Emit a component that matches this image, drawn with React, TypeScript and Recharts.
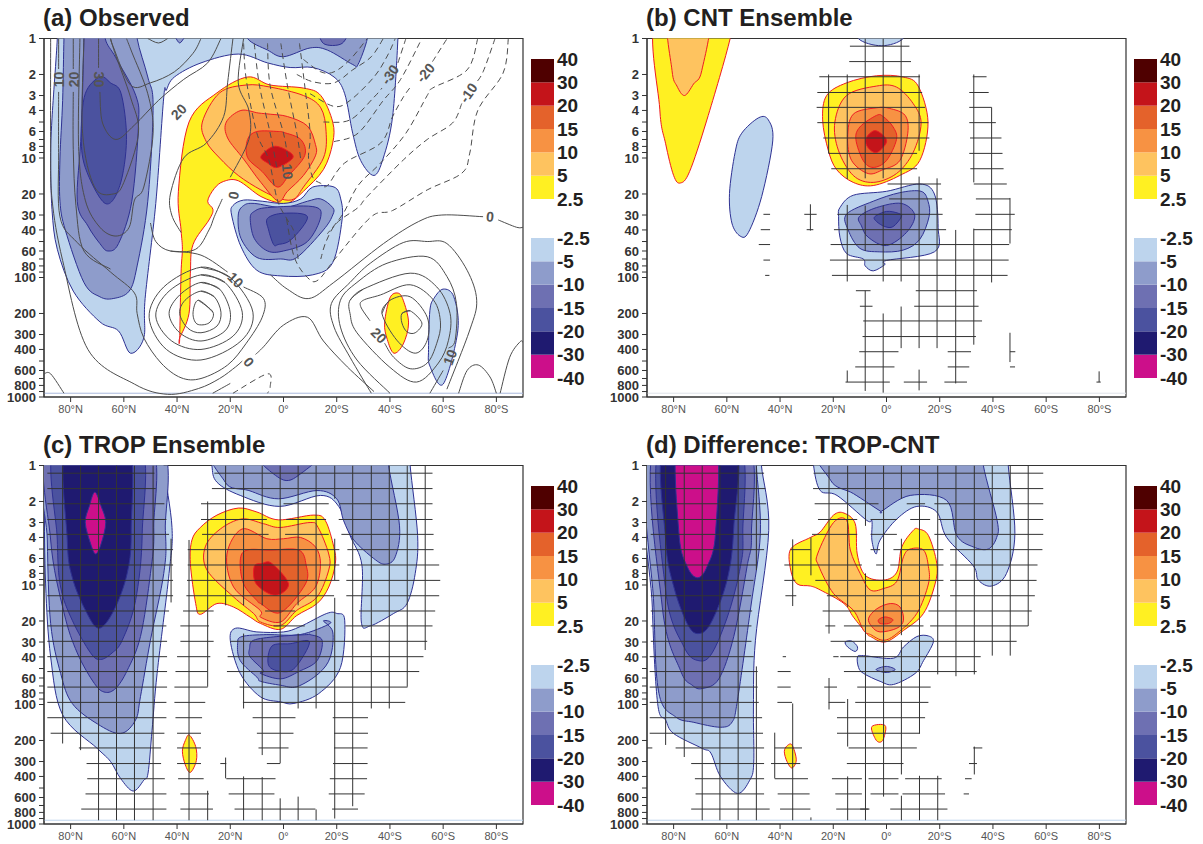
import { Bar, BarChart, ReferenceArea, ReferenceLine, Scatter, ScatterChart, XAxis, YAxis } from "recharts";

type Pt = [number, number];
type Fill = [number, Pt[]];
type Seg = [number, number];
type Tag = { lat: number; p: number; text: string; rot: number };

const LAT_TICKS = [80, 60, 40, 20, 0, -20, -40, -60, -80];
const P_TICKS = [1, 2, 3, 4, 5, 6, 7, 8, 9, 10, 20, 30, 40, 50, 60, 70, 80, 90, 100, 200, 300, 400, 500, 600, 700, 800, 900, 1000];
const P_BLANK = [5, 7, 9, 50, 70, 90, 500, 700, 900];
const WARM_LABELS = ["2.5", "5", "10", "15", "20", "30", "40"];
const COLD_LABELS = ["-40", "-30", "-20", "-15", "-10", "-5", "-2.5"];
const WARM_COLORS = ["#fff022", "#fec35f", "#f79243", "#e4622b", "#c4141a", "#4f0000"];
const COLD_COLORS = ["#cc0f8a", "#1f1a70", "#4b529f", "#6e70b2", "#8e9ccb", "#bdd4ed"];

const BAND: Record<string, string> = {
  "2.5": "#fff022", "5": "#fec35f", "10": "#f79243", "15": "#e4622b", "20": "#c4141a",
  "-2.5": "#bdd4ed", "-5": "#8e9ccb", "-10": "#6e70b2", "-15": "#4b529f", "-20": "#1f1a70", "-30": "#cc0f8a",
};

// significance grid: the pressure levels of the rows
const ROW_P = [1.16, 1.56, 2.09, 2.83, 3.77, 5.06, 6.8, 9.15, 12.3, 16.5, 22, 29.6, 39.8, 53, 71.5, 96, 129, 174, 231, 312, 418, 560, 750];

const OBS_FILLS: Fill[] = [
  [-2.5, [[85, 0.6], [85, 1], [87, 4.7], [87.5, 10], [87, 27], [85, 58], [79, 130], [69, 235], [62, 280], [57.5, 430], [52.5, 320], [52, 150], [48, 24], [45, 3.1], [44, 2.7], [41, 2.1], [31, 1.6], [17, 1.35], [6, 1.6], [-2.5, 1.75], [-11, 1.75], [-19, 2.1], [-23, 2.9], [-26, 6.2], [-29, 10.5], [-34, 14], [-37.5, 10], [-41, 4.5], [-43, 1], [-43, 0.6]]],
  [-5, [[82, 0.6], [82.5, 1], [83, 3.3], [84, 10], [84, 23], [82, 40], [75, 110], [69, 145], [64, 150], [58, 130], [55, 80], [51, 23], [49, 3.7], [51, 2.1], [55, 1], [55, 0.6]]],
  [-5, [[13.5, 0.7], [13.5, 1], [6, 1.25], [0, 1.42], [-10, 1.2], [-16.5, 1.25], [-26, 1.65], [-28, 1.65], [-31.5, 1], [-31.5, 0.7]]],
  [-5, [[41.5, 0.8], [39, 1.09], [36, 0.8]]],
  [-10, [[-14, 0.8], [-15, 1.1], [-22, 1.1], [-24, 0.8]]],
  [-10, [[75, 0.6], [75, 1], [76, 6], [77.5, 23], [73.5, 37], [69, 52], [66, 60], [62, 52], [57, 23], [54.5, 5.3], [55.5, 3], [63, 1.45], [67, 1], [67, 0.6]]],
  [-15, [[69, 2.1], [74.5, 2.9], [76, 6.2], [74.5, 12], [67, 24], [61.5, 17], [59, 7], [61, 2.9], [65, 2.35]]],
  [2.5, [[13.5, 2.1], [25, 2.85], [35.5, 5], [39.5, 19], [38.5, 40], [38, 58], [38.5, 92], [39, 320], [39, 320], [35.5, 200], [35, 92], [34, 53], [28, 33], [26.5, 27], [28.5, 23], [26, 18], [22.5, 15.7], [17, 15.5], [8.5, 21], [1, 24], [-2.5, 23.5], [-7.5, 19], [-15, 12.5], [-18.5, 7.5], [-18.5, 5], [-14, 3], [-7.5, 2.6], [5, 2.45]]],
  [5, [[14, 2.45], [24, 2.85], [30.5, 5], [29, 7.3], [24, 10], [17, 14], [8.5, 18.5], [1, 22], [-4, 22], [-7.5, 17.5], [-15, 10], [-16, 6], [-14, 3.8], [-7.5, 3], [5, 2.55]]],
  [10, [[16, 4], [21.5, 5], [21, 6.8], [15, 10.2], [8.5, 16], [2, 23], [-1.5, 19], [-7.5, 14], [-12, 9.6], [-12, 7.7], [-9, 5.4], [-1.5, 4.5], [5, 4.3], [9.5, 4.2]]],
  [15, [[10, 6], [13.5, 7], [13.5, 9.9], [8, 13], [2.3, 17.5], [-2, 14], [-8, 9.5], [-6.5, 7], [0, 6.1], [2, 6]]],
  [20, [[8.5, 9.7], [3.7, 8], [-1.5, 8.7], [-3.5, 10], [2.3, 12], [6, 11]]],
  [-2.5, [[19.5, 30], [19, 25], [15, 22.5], [8, 23], [0, 24], [-6.5, 22], [-11, 17.5], [-19, 17.5], [-21.5, 22], [-22, 33], [-18.5, 75], [-11, 95], [1, 97], [10, 87], [16, 55]]],
  [-5, [[17, 30], [15, 25], [11, 24], [0, 26], [-9, 23], [-14, 22], [-18.5, 26], [-18.5, 30], [-15, 40], [-5, 68], [1, 70], [10, 68], [16, 47]]],
  [-10, [[12.5, 32], [11, 28], [6, 26], [-11, 25.5], [-14, 31], [-9, 50], [0, 60], [6, 60], [11, 47]]],
  [-15, [[6, 32], [0, 29], [-9, 31], [-3, 48], [2, 53], [3.7, 53], [5.6, 40]]],
  [2.5, [[-40, 148], [-43, 135], [-45, 155], [-47, 240], [-45, 360], [-41.5, 430], [-39, 330], [-38, 240]]],
  [-2.5, [[-60, 125], [-64, 145], [-65.5, 280], [-60, 780], [-55, 550], [-54.5, 400], [-55, 190], [-56.5, 150]]],
];

const OBS_SOLID: Pt[][] = [
  [[87.5, 1], [87.5, 7.5], [87, 22], [83, 72], [73.5, 400], [56, 780], [43.5, 950], [32, 850], [24, 700], [18, 560], [15.5, 500]],
  [[10.5, 440], [7.5, 380], [0, 250], [-9, 215], [-15, 340], [-24, 560], [-34, 900]],
  [[26.6, 930], [20, 770]],
  [[84.5, 1], [84.5, 1.8]],
  [[84.5, 2.8], [84.5, 9], [84, 31], [77.5, 51], [65, 90], [56, 135], [55, 200], [52.5, 320], [46, 520], [38.5, 690], [31, 700], [21, 540], [14, 355], [8, 215], [7.5, 150], [15, 120]],
  [[21, 90], [31, 65], [42.5, 60]],
  [[79, 1], [79, 1.8]],
  [[79, 2.8], [79, 8.5], [78, 25], [75, 60], [65, 85]],
  [[75, 1], [75.5, 6.2], [71, 17.5], [64, 20], [60, 16], [54.5, 6.2], [57.5, 3.1], [63, 1.4], [65, 1]],
  [[76.5, 1], [77, 8], [74.5, 22.5], [69, 38], [63, 45], [58, 38], [56, 22.5], [52.5, 17.5], [49, 6.2], [51, 2.9], [57, 1.3], [59, 1]],
  [[69.5, 1], [69.5, 1.76]],
  [[69, 2.8], [68, 5.1], [63, 7], [56, 5.3], [47, 3.3], [37.5, 2.2], [28.5, 1.6], [23.5, 1]],
  [[65, 1], [64, 1.17], [57.5, 2.45], [50, 2.35], [41, 1.9], [34, 1.33], [31, 1]],
  [[51, 1], [47, 1.09], [43.5, 1]],
  [[38.5, 42], [42, 30], [42.5, 20], [37.5, 10], [29, 7.5], [22.5, 4.5], [21, 2.35], [19, 1]],
  [[15, 1], [17, 2.35], [13, 4], [13, 7], [20, 14.5]],
  [[23, 22], [26, 31], [28, 40], [33, 58], [42.5, 60], [48, 50], [50, 35]],
  [[32, 155], [26.5, 195], [28, 240], [32.5, 245], [34, 198], [32, 155], [26.5, 195]],
  [[31, 130], [26, 145], [23.5, 195], [25, 255], [31, 290], [36, 265], [39, 200], [37, 155], [31, 130], [26, 145]],
  [[31, 110], [24, 125], [20, 195], [22, 280], [31, 340], [39, 290], [43, 200], [39, 140], [31, 110], [24, 125]],
  [[31, 95], [22, 110], [15.5, 195], [19, 310], [31, 400], [42, 340], [48, 210], [43, 130], [31, 95], [22, 110]],
  [[31, 82], [20, 100], [11.5, 195], [16, 340], [31, 490], [44, 400], [50.5, 215], [45, 120], [31, 82], [20, 100]],
  [[-44.5, 200], [-47.6, 190], [-52, 240], [-49.5, 290], [-46.4, 285], [-44.5, 240], [-44.5, 200], [-47.6, 190]],
  [[-37, 200], [-40, 155], [-47.6, 145], [-54, 215], [-54, 335], [-49.5, 430], [-42.6, 335], [-37, 200], [-40, 155]],
  [[-32.5, 230], [-29, 175], [-30, 155], [-36.4, 140], [-47.6, 115], [-56.4, 155], [-59, 240], [-57.6, 355], [-54, 520], [-47.6, 580], [-41.4, 465], [-38, 355]],
  [[-25, 155], [-30, 125], [-47.6, 92], [-57.6, 120], [-62.6, 200], [-62, 335], [-58.2, 520], [-50, 750], [-40, 565], [-27.6, 290], [-25, 200], [-25, 155], [-30, 125]],
  [[-40, 930], [-27.6, 490], [-21.4, 260], [-21.4, 155], [-27.6, 110], [-38.9, 76], [-54, 67], [-61.4, 98], [-65, 165], [-64.5, 335], [-62, 390]],
  [[-60, 600], [-55, 930]],
  [[-33, 930], [-25, 465], [-19, 260], [-18, 165], [-25, 110], [-32.6, 76], [-45, 51], [-54, 50], [-61.4, 52], [-69, 87], [-72.6, 155], [-70, 275], [-61.4, 860]],
  [[-65.8, 930], [-69, 600], [-73.2, 540], [-77.6, 680], [-80, 930]],
  [[-81.4, 930], [-85, 465], [-88.9, 345], [-90, 350]],
  [[4.9, 95], [-1.4, 125], [-9.5, 150], [-18.9, 110], [-37.6, 52], [-50.8, 34], [-59.5, 30], [-75, 31]],
  [[-80.7, 33], [-87.6, 38], [-90, 38]],
  [[90, 640], [87.5, 640], [82.5, 930]],
];

const OBS_DASHED: Pt[][] = [
  [[15, 1.1], [14, 2.2], [10, 6.2], [5.5, 10.4], [2.3, 22.5], [-1.5, 33], [-4, 42], [-5.5, 70]],
  [[11, 1.1], [9, 2.5], [5, 6.2], [2.5, 12]],
  [[6, 1.1], [5, 2.5], [0, 6.2], [-1.5, 9.8]],
  [[1, 1.1], [-1.5, 2.5], [-5, 6.2], [-6.5, 10.4]],
  [[-6, 1.1], [-8, 2.5], [-10, 6.2], [-9.4, 10], [-11, 14.5], [-14, 16.3], [-16.5, 17], [-23, 11], [-36.5, 7.5], [-41, 4.5], [-45, 3.1], [-48, 2.5]],
  [[-56, 1.56], [-61.5, 1]],
  [[-7.5, 1.5], [-14, 1.9], [-19, 1.9], [-25, 1.5], [-31.5, 1]],
  [[-5, 2], [-11, 2.3], [-19, 2.35], [-26, 1.83], [-33, 1.42], [-37.5, 1]],
  [[-10, 2.9], [-19, 3.7], [-25, 3.3], [-34, 2.1], [-39, 1.4], [-42, 1]],
  [[-15, 5], [-25, 4.8], [-34, 3.1], [-37, 2.6]],
  [[-43, 1.6], [-46, 1]],
  [[-19, 7.3], [-28, 6.2], [-37.5, 3.3], [-44, 2.2], [-52, 1]],
  [[-73, 1], [-69, 1.83], [-56, 2.6], [-54, 3], [-46, 6.2], [-36.5, 11], [-28, 17], [-22.5, 29], [-16.5, 43]],
  [[-79.5, 1], [-75, 1.9], [-72, 2.4]],
  [[-67, 3.5], [-63.5, 5.1], [-54, 7], [-45, 10.4], [-31.5, 21], [-28, 26], [-20, 35], [-16, 50], [-14, 70]],
  [[-84.5, 1], [-82.5, 1.95], [-73, 4], [-70, 9.1], [-67, 13.4], [-54, 18.5], [-41, 27.5], [-33, 31], [-20, 67], [-13, 105], [-9, 100], [-4, 67], [-1, 31]],
  [[19, 930], [6, 640], [5, 820], [6, 930]],
];

const OBS_TAGS: Tag[] = [
  { lat: 84.4, p: 2.2, text: "10", rot: -90 },
  { lat: 78.8, p: 2.2, text: "20", rot: -90 },
  { lat: 69.5, p: 2.2, text: "30", rot: 90 },
  { lat: 39.4, p: 4.1, text: "20", rot: -45 },
  { lat: 18.8, p: 20.5, text: "0", rot: -80 },
  { lat: -1.5, p: 13, text: "10", rot: 85 },
  { lat: 18, p: 105, text: "10", rot: 45 },
  { lat: 13, p: 510, text: "0", rot: 50 },
  { lat: -35.8, p: 305, text: "20", rot: 45 },
  { lat: -62.6, p: 465, text: "10", rot: -70 },
  { lat: -77.6, p: 31, text: "0", rot: 5 },
  { lat: -40, p: 2, text: "-30", rot: -55 },
  { lat: -53.3, p: 1.94, text: "-20", rot: -50 },
  { lat: -69.5, p: 2.85, text: "-10", rot: -55 },
];

const CNT_FILLS: Fill[] = [
  [2.5, [[86, 0.6], [85.2, 3.9], [83, 7.6], [80, 14], [77.5, 16.2], [74, 13], [67.5, 4.8], [58.75, 1], [58, 0.6]]],
  [5, [[81.7, 0.6], [80.6, 1.85], [78.75, 2.5], [75.9, 3], [72.5, 2.4], [69.4, 1.85], [66.8, 0.6]]],
  [-2.5, [[48, 4.6], [44.4, 4.8], [42.75, 7.2], [46.9, 21], [51.9, 42], [55, 45], [58.1, 35], [59, 19.8], [56.9, 9], [54.4, 6.2]]],
  [-2.5, [[11, 0.7], [10.6, 1], [1.9, 1.15], [-6.25, 1], [-7, 0.7]]],
  [2.5, [[22.5, 3], [15, 2.35], [3.75, 2.05], [-6.25, 2.1], [-11.9, 2.5], [-15.6, 5], [-12.5, 10.5], [-5, 14], [5, 17], [12.5, 16], [18.75, 12.5], [21.9, 8.6], [24, 4.8]]],
  [5, [[3.75, 2.5], [15, 3], [19.4, 5], [18.1, 8.6], [12.5, 14], [5, 16], [-3.75, 13.5], [-10, 9], [-13, 5.1], [-10, 3.5], [-3.75, 2.55]]],
  [10, [[3.75, 3.8], [12.5, 4.3], [14.6, 6.7], [13.1, 10.5], [6.9, 13.5], [1.25, 12.5], [-5, 10.5], [-8, 6.2], [-7, 4.4], [-1.25, 3.85]]],
  [15, [[3.75, 4.4], [10, 5.5], [11.5, 7], [8.75, 10.5], [5, 12], [0, 10.5], [-3.75, 7], [-2.5, 5.5], [1.25, 4.5]]],
  [20, [[4.4, 5.9], [0.6, 6.7], [0.25, 7.6], [3.75, 9], [6.9, 8.2], [7.75, 6.9]]],
  [-2.5, [[17.5, 26], [12.5, 20.5], [0, 19], [-12.5, 16.5], [-18, 20], [-19.4, 38], [-18, 61], [0, 72], [0.6, 78], [5, 88], [8, 80], [8.75, 70], [15, 63], [17.5, 46], [18, 31]]],
  [-5, [[15, 29.5], [5, 23], [-5, 19.5], [-13, 19], [-15.6, 23], [-16, 31], [-12.5, 48], [-6.25, 59], [2.5, 61], [10, 57], [14.4, 40]]],
  [-10, [[10.25, 31], [3.75, 26], [-5.6, 24], [-10.6, 30], [-7.5, 42], [0, 54], [6.9, 46], [9.4, 37]]],
  [-15, [[4.4, 31], [0, 28], [-4.4, 29], [-5.6, 31], [-2.5, 37.5], [0.6, 37.5], [3.75, 34]]],
];

const CNT_ROWS: Seg[][] = [
  [[13.75, -8.6]], [[14, -9.2]],
  [[25.25, -12.6], [-32.4, -37.6]], [[26, -13.4], [-31.1, -38.4]], [[26.25, -14.5], [-31.1, -39.5]], [[26, -15.75], [-31.1, -41.1]],
  [[23.75, -16.1], [-31.4, -43.2]], [[21.75, -11.5], [-31.1, -43.6]], [[20.75, -11.5], [-31.5, -44]],
  [[-0.4, -20.5], [-32.8, -45.2]], [[-1, -20.9], [-33.6, -46.4]],
  [[46.25, 43.75], [30.9, 26.25], [18.5, -21.1], [-33.4, -48.2]],
  [[47.25, 43.75], [30, 27.5], [19.75, -22.4], [-32.8, -47.1]],
  [[48, 43.75], [21, -46.1]], [[46.25, 43.75], [21.25, -45.9]], [[45.6, 44], [20.5, -45.5]],
  [[11.5, 6], [-11, -34]], [[10, 5.25], [-10.4, -34.6]], [[8.75, -35.9]], [[9, -33.6]],
  [[10.25, -4.5], [-23, -31.75], [-46.4, -48.4]],
  [[11.75, -3], [-23, -31.1], [-46.4, -48.3]],
  [[15.4, -1.25], [-6.5, -15.25], [-21.75, -30.25], [-78.9, -80.5]],
];

const CNT_COLS: [number, Seg[]][] = [
  [28.6, [[24.4, 40.5]]],
  [21.75, [[2, 9.15]]],
  [14.75, [[2, 15], [24.7, 108], [600, 750]]],
  [8, [[1, 14.8], [25, 60], [129, 890]]],
  [1.25, [[1, 14.8], [25, 108], [200, 920]]],
  [-5.5, [[1, 108], [175, 390]]],
  [-12.25, [[2, 8.7], [14.3, 390], [590, 880]]],
  [-19, [[14.8, 390]]],
  [-26, [[40, 770]]],
  [-32.8, [[2, 16], [39, 365]]],
  [-39.5, [[3.77, 110]]],
  [-46.4, [[21.6, 52], [290, 510]]],
  [-79.9, [[610, 750]]],
];

const TROP_FILLS: Fill[] = [
  [-2.5, [[89.75, 0.6], [45, 0.6], [45, 1], [41.9, 3.3], [43, 8], [47.5, 55], [49.4, 165], [50.9, 375], [52.5, 430], [56.5, 530], [61.25, 415], [65, 300], [70, 233], [83, 122], [87.5, 40], [89.4, 9.8], [89.9, 2]]],
  [-5, [[88.9, 0.6], [47.5, 0.6], [44.4, 3.5], [45, 8], [50, 29], [53.75, 86], [55.6, 135], [61.25, 175], [70, 145], [79.4, 98], [83.75, 55], [87.5, 21], [88.75, 4.2]]],
  [-10, [[87.5, 0.6], [51.25, 0.6], [48.75, 3.3], [50, 8], [53.75, 27], [58.75, 52], [63, 73], [67, 79], [71, 67], [77.5, 37], [82.5, 17], [87.5, 4.2]]],
  [-15, [[85.25, 0.6], [54.75, 0.6], [53.1, 3.7], [55.6, 13.5], [60.6, 29], [64.4, 37], [68.75, 42], [72.5, 37], [79.4, 19.7], [83.75, 10.4], [85, 4.2]]],
  [-20, [[81.25, 0.6], [59, 0.6], [57.25, 3.5], [58.75, 8], [63.75, 16.3], [69.4, 23], [74.4, 16.3], [79.4, 8.6], [81.25, 4.2]]],
  [-30, [[70.9, 1.67], [73, 2.2], [74.5, 3], [72.5, 4.5], [70.6, 5.5], [68.5, 4.5], [66.8, 3], [68.5, 2.2]]],
  [-2.5, [[27, 0.6], [26.9, 1], [25, 1.38], [16.25, 1.78], [1.5, 2.2], [-13.9, 1.78], [-20.75, 2.2], [-25, 3.85], [-29.5, 6.9], [-29.25, 20.4], [-32.6, 22], [-41.4, 17.3], [-46.4, 14.3], [-49.5, 8], [-50.4, 3.85], [-47.6, 1], [-47.6, 0.6]]],
  [-5, [[23.75, 0.6], [21.9, 1.38], [13, 1.62], [1.9, 1.9], [-12.6, 1.62], [-20, 1.9], [-22.6, 2.9], [-26.4, 4.2], [-33.9, 6], [-38.25, 6.7], [-42, 5.8], [-43.6, 3.2], [-39.5, 1], [-39.5, 0.6]]],
  [-10, [[11.5, 0.7], [1.1, 1.29], [-6.5, 1.17], [-15, 0.7]]],
  [2.5, [[34.4, 4.2], [31.25, 3.3], [25, 2.6], [16.9, 2.27], [10, 2.45], [1.9, 2.85], [-11.4, 2.6], [-15.75, 2.9], [-18.9, 4.8], [-19.5, 6.6], [-17, 10.4], [-12.6, 14.3], [-5, 18], [1.1, 23.5], [8.6, 21], [12.5, 18.6], [18.75, 15.3], [25, 14.3], [31.25, 17.6], [33, 14.3], [35, 6.6]]],
  [5, [[29.4, 4.8], [23.75, 3.4], [15.6, 2.8], [7.5, 3.07], [1.25, 3.3], [-10, 3], [-13, 3.3], [-17, 5.5], [-17, 7.5], [-12.6, 12.6], [-5, 16.3], [1.1, 21.8], [8.6, 20.4], [11.25, 17.3], [18.75, 12.6], [28.75, 7.5]]],
  [10, [[21.25, 5.5], [15.6, 3.4], [6.25, 4.1], [0, 4.1], [-6.4, 4], [-12, 4.8], [-13.9, 6.6], [-12, 10.4], [-5, 14.3], [1.1, 20.4], [8.6, 18.6], [8.75, 16.3], [18.75, 10.4]]],
  [15, [[16.25, 6.2], [13.75, 5.1], [5, 5.1], [-5.75, 5.1], [-8.5, 6.8], [-8.25, 9.8], [1.1, 17], [8.6, 14.3], [10, 13.5], [15, 9.8]]],
  [20, [[11, 7], [8.1, 6.6], [4.4, 6.6], [-1.9, 9.8], [3.1, 12.2], [10.25, 9.8]]],
  [-2.5, [[20, 29], [18, 23], [10, 24.7], [0, 24.7], [-6.25, 22.3], [-16.25, 17.3], [-20, 17.3], [-23, 19.7], [-21.4, 49], [-13.25, 81], [-3.9, 98], [1.1, 95], [8.75, 86], [16.25, 55]]],
  [-5, [[17.25, 31], [15.6, 27], [6.25, 26], [-6.25, 26], [-17.5, 21], [-15, 20], [-18.5, 24.7], [-17.6, 40], [-13.25, 55], [-5, 71], [1.1, 69], [8.6, 64], [10, 59], [16.25, 43]]],
  [-10, [[12.75, 34], [11.25, 29], [2.5, 27], [-8.75, 26], [-10, 26], [-14.5, 29], [-12.6, 43], [-5.75, 53], [1.1, 61], [8.6, 55], [7.5, 52], [12.5, 40]]],
  [-15, [[5.6, 47], [4.4, 32.5], [-2.5, 31], [-9.75, 30], [-4.4, 49], [0.6, 53]]],
  [2.5, [[35.4, 180], [33, 225], [32.75, 295], [35, 370], [36.9, 320], [38, 246], [36.9, 200]]],
];

const TROP_ROWS: Seg[][] = [
  [[88.75, 48.5], [26, -56]],
  [[88.75, 48], [26.9, -56]],
  [[88.75, 44.75], [31, 7.5], [0, -17], [-21, -56]],
  [[88.75, 44], [31, 6.25], [-1, -16], [-20.75, -56]],
  [[88.75, 43], [30.6, 5.6], [-0.6, -17], [-21.75, -56.4]],
  [[88.75, 41.5], [36, -21], [-24, -56.4]],
  [[88.75, 41.5], [36, -21], [-24, -58.5]],
  [[88.75, 41.5], [36.25, -21], [-23.6, -58.9]],
  [[88.75, 41.5], [36.5, -19], [-23.6, -58.5]],
  [[88.75, 43], [37.75, 26.25], [6.9, -4.4], [-28.4, -57]],
  [[88.75, 44], [38.75, 28], [3.75, -8], [-23.25, -56]],
  [[88.75, 43.75], [38.75, 26.25], [20, -54]],
  [[88.75, 43.75], [40, 27.5], [21, -52.6]],
  [[88.75, 43.75], [40.6, 28.5], [21.25, -51]],
  [[88.75, 43.75], [41, 28.5], [16.5, -46.6]],
  [[88.75, 44], [41, 29.4], [15.25, -45.75]],
  [[88.75, 44], [40.6, 30.6], [11.6, -4.5], [-18.5, -31.75]],
  [[87.5, 44.75], [40, 31], [10, -3.75], [-19, -31.75]],
  [[76.9, 46], [40, 31], [9.4, -1.9], [-19, -31.6]],
  [[74, 46], [40, 31], [23.75, 21.5], [6.25, 1.25], [-18.6, -31.6]],
  [[73.75, 44.6], [39.6, 30], [21.5, 3], [-17.4, -31.4]],
  [[74.4, 44], [38.75, 28], [20.6, 3.4], [-17, -30.5]],
  [[76, 44], [38.75, 26.5], [18.4, -12], [-18.25, -28]],
];

const TROP_COLS: [number, Seg[]][] = [
  [83, [[1, 212]]],
  [76.25, [[1, 241]]],
  [69.5, [[1, 930]]],
  [62.75, [[1, 930]]],
  [56, [[1, 930]]],
  [49, [[1, 930]]],
  [42.25, [[4.1, 14]]],
  [35.5, [[4.2, 930]]],
  [28.5, [[2, 71], [527, 930]]],
  [21.75, [[1, 14.8], [278, 415]]],
  [15, [[1, 14.8], [25.5, 108], [400, 930]]],
  [8, [[1, 14.8], [28, 265], [405, 930]]],
  [1.25, [[1, 310], [610, 930]]],
  [-5.5, [[1, 14.8], [25.5, 108], [590, 930]]],
  [-12.25, [[1, 108], [755, 930]]],
  [-19.25, [[1, 1.9], [4.1, 9.1], [12.8, 900]]],
  [-26, [[1, 710]]],
  [-33, [[1, 108]]],
  [-39.75, [[1, 108]]],
  [-46.5, [[1, 71]]],
  [-53.25, [[1, 35]]],
];

const DIFF_FILLS: Fill[] = [
  [-2.5, [[89.25, 0.6], [88, 15.3], [86, 98], [83, 135], [80, 175], [69.25, 233], [66, 255], [62.4, 400], [56, 555], [51.4, 430], [49.9, 310], [50, 105], [49.25, 29], [44.25, 3.5], [47, 1], [47, 0.6]]],
  [-5, [[88.4, 0.6], [87.4, 15.3], [85.5, 81], [79.25, 127], [72.4, 141], [62.4, 155], [58, 140], [56, 92], [51, 15.3], [47.4, 3.7], [48.9, 1], [48.9, 0.6]]],
  [-10, [[86.75, 0.6], [84.25, 15.3], [77.4, 52], [73, 69], [69.25, 73.5], [63, 61], [57.4, 27], [52.4, 7], [50.75, 3.7], [53, 0.6]]],
  [-15, [[84.9, 0.6], [83, 11], [76.1, 33], [70.5, 43], [65.5, 37], [59.25, 17], [54.9, 7], [54, 3.7], [56, 0.6]]],
  [-20, [[83, 0.6], [83, 4.2], [79.9, 10.4], [74.9, 21], [70.9, 25.5], [66.1, 21], [59.9, 9.1], [57.4, 3.3], [57.4, 0.6]]],
  [-30, [[78.4, 0.6], [78, 3.7], [74.9, 7], [71, 8.7], [67.4, 7], [64.25, 3.7], [64.25, 0.6]]],
  [-2.5, [[27.5, 0.6], [27.4, 1], [24.9, 1.62], [18.6, 1.78], [7.4, 2.88], [5.5, 2.9], [5.5, 4.2], [3.9, 5.5], [2.4, 4.2], [-3.9, 2.8], [-11.4, 2.2], [-18.9, 2.45], [-22.6, 4], [-32.6, 6.9], [-34.5, 9.1], [-39.5, 10.2], [-45.1, 8], [-48.25, 3.7], [-45.75, 1], [-45.75, 0.6]]],
  [-5, [[23.6, 0.6], [21, 1.33], [12.4, 1.72], [2.4, 2.4], [1.75, 2.4], [-8.9, 1.78], [-22.6, 1.96], [-26.4, 3.85], [-32.6, 4.8], [-38.25, 5], [-41.4, 4], [-41.6, 2.9], [-36.4, 1], [-36.4, 0.6]]],
  [2.5, [[36, 5], [28.6, 4], [24.9, 3.6], [19.9, 2.6], [16, 2.5], [11.75, 3.07], [11, 5.5], [8, 8.3], [1.1, 9.1], [-3.9, 7.8], [-5.75, 4.8], [-10, 3.5], [-12, 3.4], [-15.75, 3.85], [-18.9, 6.6], [-18.25, 9.8], [-13.9, 17.3], [-6.4, 24], [0.5, 30], [6, 27], [7.4, 25.5], [12.4, 18.6], [16, 14.3], [24.9, 11], [28.6, 10.2], [33.6, 9.8], [36, 7.5]]],
  [5, [[25.9, 5.5], [19.9, 3], [14.9, 2.9], [13.6, 5.1], [9.9, 8], [6.1, 11], [1.1, 10.7], [-3.9, 9.3], [-6.4, 5.8], [-8.9, 5], [-13.9, 5.1], [-15.75, 7], [-15.75, 9.8], [-11.4, 17.3], [-3.9, 25.5], [1.1, 29], [6, 26], [8.6, 24], [12.4, 16.3], [19.9, 11.8], [25.5, 6.9]]],
  [10, [[6.75, 19], [3.6, 15.8], [-1.4, 14.3], [-5.1, 15.3], [-6.4, 19.7], [-3.9, 23], [2.4, 24.7], [5.5, 22.3]]],
  [15, [[3, 19.5], [0.5, 18.5], [-2.4, 19.5], [-0.75, 21], [2.4, 21]]],
  [-2.5, [[10.9, 40], [8.6, 39], [-2.6, 41], [-6.4, 33], [-11.4, 27], [-15.75, 26.7], [-17.6, 30], [-13.9, 43], [-10.75, 55], [-2.6, 68], [2.4, 64], [8.6, 55], [10.5, 49]]],
  [-5, [[3.9, 51], [0.1, 48], [-3.25, 51], [0.1, 54]]],
  [-2.5, [[15.5, 30], [13, 29.5], [10.9, 33], [11.75, 36], [14.6, 33]]],
  [2.5, [[37.4, 222], [35.5, 218], [33.9, 290], [35.5, 340], [37.4, 300], [38.4, 248]]],
  [2.5, [[5.5, 153], [0.5, 150], [1.1, 193], [2.6, 207], [4.25, 193]]],
];

const DIFF_ROWS: Seg[][] = [
  [[88.9, 46], [27.4, -58.9]],
  [[88.6, 45.5], [27.6, -58.9]],
  [[88.6, 45.25], [27, 3], [-7.6, -14.5], [-18, -58.9]],
  [[88.6, 44.25], [25.75, 11], [6, -4], [-8.9, -16.4], [-19.5, -58.9]],
  [[88.6, 44.5], [28, 11], [6, -3.9], [-18, -58.9]],
  [[88.6, 46], [36, 28.5], [6, 2.4], [-2.6, -21.4], [-23.9, -58.6]],
  [[88.6, 48.6], [38.4, 9.25], [3.9, 1.1], [-1.4, -21.4], [-23.9, -56.75]],
  [[88.6, 50], [38.4, 34.25], [26.75, -21.4], [-23.9, -56.4]],
  [[88.6, 50.9], [38, 33.9], [22.4, -20.1], [-23.9, -55.75]],
  [[88.6, 50.5], [24, -12.6], [-15.75, -54.6]],
  [[88.6, 50.75], [23, 19.25], [16, -13.9], [-16.4, -53.25]],
  [[88.6, 50.75], [21, -48.9]],
  [[89, 49.9], [39, 37.75], [20, 18], [17.4, -35.4]],
  [[89, 48.4], [40.9, 36], [16, -33.9]],
  [[89, 48.4], [41, 36], [23.4, 18.6], [11, -16.6]],
  [[89, 48], [41, 35.5], [21.75, 15.5], [11.75, -15.75]],
  [[89, 46.75], [18.6, -14.5]],
  [[89, 46.4], [18.6, -12.6]],
  [[90, 88], [79.25, 46], [42, 31.75], [14.25, -11.4], [-32.6, -36]],
  [[73.4, 46], [43.4, 32.4], [14.9, -6.4], [-31, -34]],
  [[72, 46], [42, 29.5], [20.5, 9.25], [6.75, -4.5], [-7, -20.75], [-29.5, -32]],
  [[71.75, 46], [40.9, 28.9], [19.25, 9.25], [6, -4.5], [-6, -22], [-29, -31]],
  [[73.4, 43.9], [40, 28.6], [18.9, 6.75], [9.9, 6.4], [-1.4, -22.9]],
];

const DIFF_COLS: [number, Seg[]][] = [
  [83, [[1, 218]]],
  [76, [[1, 275]]],
  [69.25, [[1, 930]]],
  [62.6, [[1, 930]]],
  [55.75, [[1, 930]]],
  [48.9, [[1, 7.5], [48, 930]]],
  [42, [[172, 415]]],
  [35.25, [[4.15, 15], [98, 930]]],
  [28.4, [[4, 8.3], [880, 930]]],
  [21.6, [[1, 25.5], [60, 110]]],
  [14.6, [[1, 15.3], [90, 225], [400, 930]]],
  [7.9, [[1, 3.2], [8, 930]]],
  [1.1, [[1, 590]]],
  [-5.6, [[1, 1.9], [4.1, 26.3], [29, 385], [580, 930]]],
  [-12.4, [[1, 175], [395, 930]]],
  [-19.25, [[1, 56], [395, 930]]],
  [-26.1, [[1, 58]]],
  [-33, [[1, 56], [225, 385]]],
  [-39.75, [[1, 39]]],
  [-46.5, [[1, 39]]],
  [-53.25, [[1, 22]]],
];

const INK = "#231f20";
const FONT = '"Liberation Sans", Arial, sans-serif';
const toData = (pts: Pt[]) => pts.map(([lat, p]) => ({ lat, p }));
const noDot = () => <g />;

// catmull-rom through the read contour points, so shapes keep their extent
function smoothCurve(closed: boolean) {
  return (ctx: any) => {
    let pts: Pt[] = [];
    return {
      areaStart() {},
      areaEnd() {},
      lineStart() {
        pts = [];
      },
      point(x: number, y: number) {
        pts.push([+x, +y]);
      },
      lineEnd() {
        const n = pts.length;
        if (!n) return;
        const at = (i: number) => (closed ? pts[(i + n) % n] : pts[Math.max(0, Math.min(n - 1, i))]);
        ctx.moveTo(pts[0][0], pts[0][1]);
        const last = closed ? n : n - 1;
        for (let i = 0; i < last; i++) {
          const [p0, p1, p2, p3] = [at(i - 1), at(i), at(i + 1), at(i + 2)];
          ctx.bezierCurveTo(
            p1[0] + (p2[0] - p0[0]) / 6,
            p1[1] + (p2[1] - p0[1]) / 6,
            p2[0] - (p3[0] - p1[0]) / 6,
            p2[1] - (p3[1] - p1[1]) / 6,
            p2[0],
            p2[1],
          );
        }
        if (closed) ctx.closePath();
      },
    };
  };
}
const closedCurve = smoothCurve(true);
const openCurve = smoothCurve(false);

function hatchEnds(rows: Seg[][], cols: [number, Seg[]][]) {
  const out: { lat: number; p: number }[] = [];
  rows.forEach((segs, i) =>
    segs.forEach(([a, b]) => out.push({ lat: a, p: ROW_P[i] }, { lat: b, p: ROW_P[i] })),
  );
  cols.forEach(([lat, segs]) => segs.forEach(([a, b]) => out.push({ lat, p: a }, { lat, p: b })));
  return out;
}

function hatchPath(props: any) {
  const pts = props.points as { x: number; y: number }[];
  let d = "";
  for (let i = 0; i + 1 < pts.length; i += 2) {
    d += `M${pts[i].x},${pts[i].y}L${pts[i + 1].x},${pts[i + 1].y}`;
  }
  return <path d={d} fill="none" stroke="#333" strokeWidth={1} />;
}

function tagShape(props: any) {
  const t = props.payload as Tag;
  return (
    <text
      x={props.cx}
      y={props.cy}
      textAnchor="middle"
      dominantBaseline="central"
      transform={`rotate(${t.rot} ${props.cx} ${props.cy})`}
      fontFamily={FONT}
      fontWeight="bold"
      fontSize={14}
      fill="#555"
    >
      {t.text}
    </text>
  );
}

function latLabel(v: number) {
  if (v === 0) return "0°";
  return v > 0 ? `${v}°N` : `${-v}°S`;
}

function Panel({
  left, top, title, fills, solid = [], dashed = [], tags = [], rows, cols, base,
}: {
  left: number; top: number; title: string; fills: Fill[]; solid?: Pt[][]; dashed?: Pt[][]; tags?: Tag[];
  rows?: Seg[][]; cols?: [number, Seg[]][]; base: string;
}) {
  return (
    <div style={{ position: "absolute", left, top }}>
      <div style={{ position: "absolute", left: 43, top: 4, font: `bold 24px ${FONT}`, color: INK, whiteSpace: "nowrap", zIndex: 2 }}>
        {title}
      </div>
      <ScatterChart width={528} height={420} margin={{ top: 38.5, right: 5, bottom: 0, left: 0 }}>
        <XAxis
          type="number"
          dataKey="lat"
          domain={[-90, 90]}
          reversed
          allowDataOverflow
          ticks={LAT_TICKS}
          interval={0}
          tickFormatter={latLabel}
          height={23}
          tickSize={5}
          tickMargin={3}
          tick={{ fontSize: 11, fill: "#555", fontFamily: FONT }}
          stroke="#333"
        />
        <YAxis
          type="number"
          dataKey="p"
          scale="log"
          domain={[1, 1000]}
          reversed
          allowDataOverflow
          ticks={P_TICKS}
          interval={0}
          tickFormatter={(v: number) => (P_BLANK.includes(v) ? "" : String(v))}
          width={44}
          tickSize={5}
          tickMargin={3}
          tick={{ fontSize: 13, fontWeight: "bold", fill: "#333", fontFamily: FONT }}
          stroke="#333"
        />
        {fills.map(([band, pts], i) => (
          <Scatter
            key={`fill-${i}`}
            data={toData(pts)}
            shape={noDot}
            line={{ fill: BAND[String(band)], stroke: band > 0 ? "#ed1c24" : "#2e3192", strokeWidth: 1 }}
            lineJointType={closedCurve as any}
            isAnimationActive={false}
          />
        ))}
        <ReferenceLine y={930} stroke={base} strokeWidth={1} />
        {rows && cols && (
          <Scatter data={hatchEnds(rows, cols)} shape={noDot} line={hatchPath} isAnimationActive={false} />
        )}
        {solid.map((pts, i) => (
          <Scatter
            key={`solid-${i}`}
            data={toData(pts)}
            shape={noDot}
            line={{ stroke: "#4d4d4d", strokeWidth: 1, fill: "none" }}
            lineJointType={openCurve as any}
            isAnimationActive={false}
          />
        ))}
        {dashed.map((pts, i) => (
          <Scatter
            key={`dash-${i}`}
            data={toData(pts)}
            shape={noDot}
            line={{ stroke: "#4d4d4d", strokeWidth: 1, strokeDasharray: "6 4", fill: "none" }}
            lineJointType={openCurve as any}
            isAnimationActive={false}
          />
        ))}
        {tags.length > 0 && <Scatter data={tags} shape={tagShape} isAnimationActive={false} />}
        <ReferenceArea x1={90} x2={-90} y1={1} y2={1000} fill="none" fillOpacity={0} stroke="#333" strokeWidth={1.2} ifOverflow="visible" />
      </ScatterChart>
    </div>
  );
}

function ColorBar({ left, top, colors, labels }: { left: number; top: number; colors: string[]; labels: string[] }) {
  const row: Record<string, number | string> = { name: "bar" };
  colors.forEach((_c, i) => (row[`s${i}`] = 1));
  return (
    <div style={{ position: "absolute", left, top: top - 14 }}>
      <BarChart width={78} height={168} data={[row]} margin={{ top: 14, right: 0, bottom: 14, left: 0 }} barCategoryGap={0}>
        <XAxis dataKey="name" hide />
        <YAxis
          type="number"
          orientation="right"
          domain={[0, colors.length]}
          ticks={labels.map((_l, i) => i)}
          interval={0}
          tickFormatter={(i: number) => labels[i]}
          axisLine={false}
          tickLine={false}
          tickMargin={3}
          tickSize={0}
          width={55}
          tick={{ fontSize: 19, fontWeight: "bold", fill: INK, fontFamily: FONT, textAnchor: "start" }}
        />
        {colors.map((c, i) => (
          <Bar key={c} dataKey={`s${i}`} stackId="a" fill={c} isAnimationActive={false} />
        ))}
      </BarChart>
    </div>
  );
}

export default function App() {
  return (
    <div style={{ position: "absolute", left: 0, top: 0, width: 1203, height: 844, background: "#fff", overflow: "hidden" }}>
      <Panel left={0} top={0} title="(a) Observed" fills={OBS_FILLS} solid={OBS_SOLID} dashed={OBS_DASHED} tags={OBS_TAGS} base="#a9b9dd" />
      <Panel left={603} top={0} title="(b) CNT Ensemble" fills={CNT_FILLS} rows={CNT_ROWS} cols={CNT_COLS} base="#dfe3ea" />
      <Panel left={0} top={427} title="(c) TROP Ensemble" fills={TROP_FILLS} rows={TROP_ROWS} cols={TROP_COLS} base="#bdd4ed" />
      <Panel left={603} top={427} title="(d) Difference: TROP-CNT" fills={DIFF_FILLS} rows={DIFF_ROWS} cols={DIFF_COLS} base="#bdd4ed" />
      {[[531, 59, 238], [1134, 59, 238], [531, 486, 665], [1134, 486, 665]].map(([x, warmTop, coldTop]) => (
        <div key={`${x}-${warmTop}`}>
          <ColorBar left={x} top={warmTop} colors={WARM_COLORS} labels={WARM_LABELS} />
          <ColorBar left={x} top={coldTop} colors={COLD_COLORS} labels={COLD_LABELS} />
        </div>
      ))}
    </div>
  );
}
